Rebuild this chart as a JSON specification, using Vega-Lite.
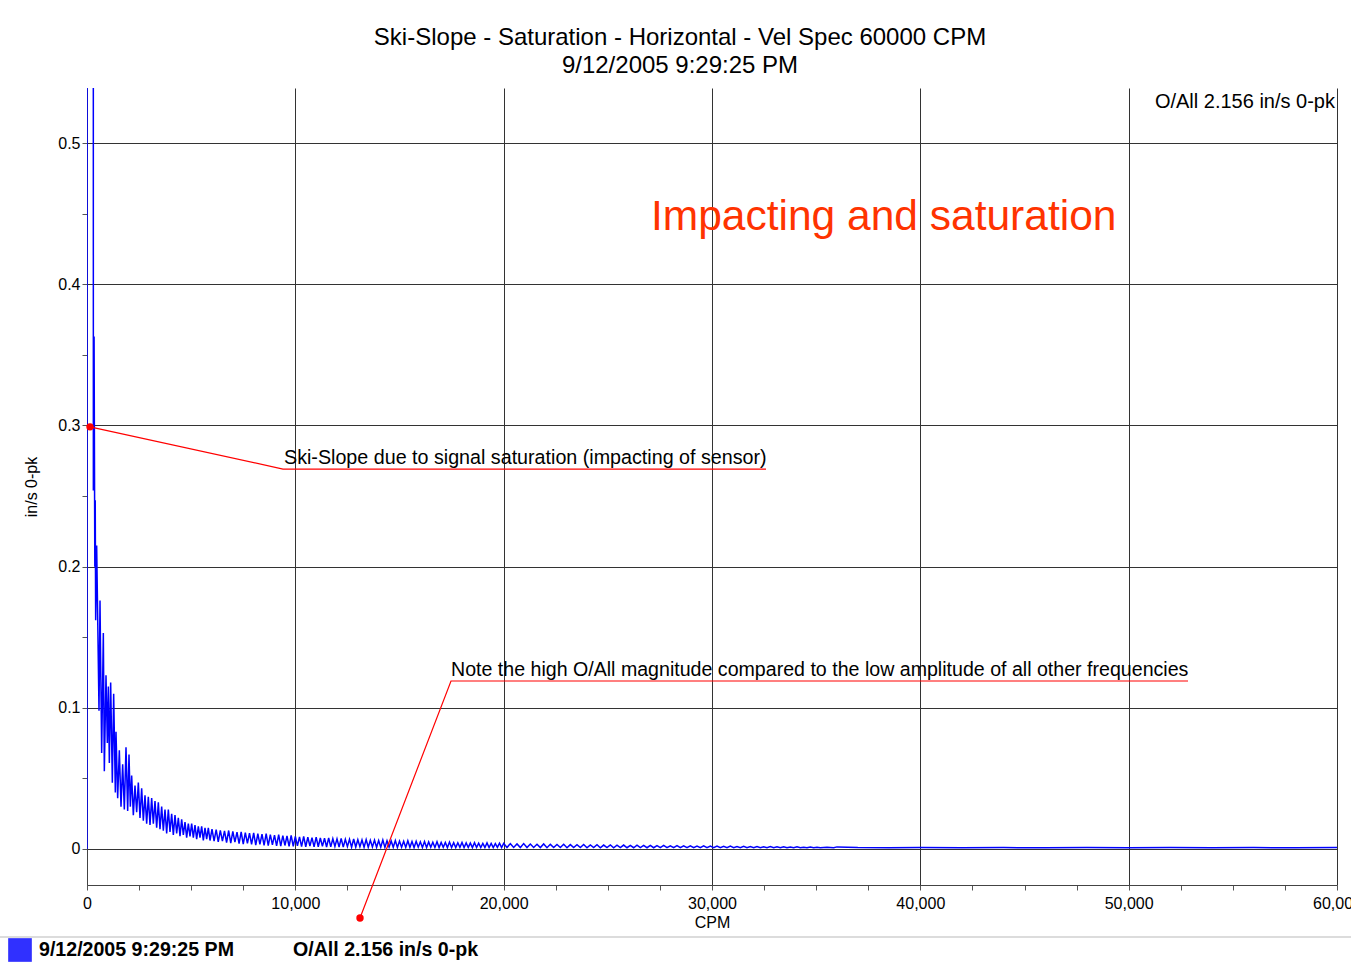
{
  "$schema": "https://vega.github.io/schema/vega-lite/v6.json",
  "width": 1250,
  "height": 797,
  "autosize": {"type": "none"},
  "padding": {"left": 87, "top": 88, "right": 14, "bottom": 77},
  "background": "white",
  "title": {
    "text": ["Ski-Slope - Saturation - Horizontal - Vel Spec 60000 CPM", "9/12/2005 9:29:25 PM"],
    "font": "Liberation Sans",
    "fontSize": 24,
    "fontWeight": "normal",
    "color": "black",
    "lineHeight": 28,
    "anchor": "middle",
    "dx": -32,
    "offset": 10
  },
  "config": {
    "view": {"stroke": null},
    "font": "Liberation Sans",
    "axis": {
      "labelFont": "Liberation Sans",
      "titleFont": "Liberation Sans",
      "labelColor": "black",
      "titleColor": "black",
      "labelFontSize": 16,
      "titleFontSize": 16,
      "titleFontWeight": "normal",
      "tickColor": "#555",
      "domainColor": "#444",
      "tickSize": 5,
      "grid": true,
      "gridColor": "#333",
      "labelOverlap": false,
      "labelFlush": false
    }
  },
  "datasets": {
    "spectrum": [
      {"cpm":0,"amp":0},{"cpm":15,"amp":3},{"cpm":290,"amp":3},{"cpm":305,"amp":0.254},{"cpm":340,"amp":0.363},{"cpm":375,"amp":0.2},{"cpm":395,"amp":0.247},{"cpm":416,"amp":0.162},{"cpm":464,"amp":0.215},
      {"cpm":576,"amp":0.098},{"cpm":624,"amp":0.176},{"cpm":704,"amp":0.068},{"cpm":784,"amp":0.153},{"cpm":832,"amp":0.055},{"cpm":912,"amp":0.123},{"cpm":976,"amp":0.075},{"cpm":1024,"amp":0.115},{"cpm":1072,"amp":0.061},{"cpm":1136,"amp":0.118},{"cpm":1216,"amp":0.047},{"cpm":1280,"amp":0.11},{"cpm":1360,"amp":0.04},{"cpm":1392,"amp":0.083},{"cpm":1472,"amp":0.036},{"cpm":1552,"amp":0.07},{"cpm":1632,"amp":0.03},{"cpm":1712,"amp":0.06},{"cpm":1792,"amp":0.028},{"cpm":1872,"amp":0.072},{"cpm":1952,"amp":0.027},{"cpm":2016,"amp":0.067},{"cpm":2080,"amp":0.03},{"cpm":2144,"amp":0.052},{"cpm":2224,"amp":0.024},{"cpm":2304,"amp":0.045},{"cpm":2384,"amp":0.026},{"cpm":2464,"amp":0.047},{"cpm":2544,"amp":0.022},{"cpm":2624,"amp":0.043},{"cpm":2704,"amp":0.02},{"cpm":2784,"amp":0.038},{"cpm":2864,"amp":0.018},{"cpm":2944,"amp":0.037},{"cpm":3024,"amp":0.017},{"cpm":3104,"amp":0.036},{"cpm":3184,"amp":0.018},{"cpm":3264,"amp":0.034},{"cpm":3344,"amp":0.015},{"cpm":3424,"amp":0.033},{"cpm":3504,"amp":0.014},{"cpm":3584,"amp":0.03},{"cpm":3664,"amp":0.013},{"cpm":3744,"amp":0.028},{"cpm":3824,"amp":0.011},{"cpm":3904,"amp":0.028},{"cpm":3984,"amp":0.012},{"cpm":4064,"amp":0.025},{"cpm":4144,"amp":0.01},{"cpm":4224,"amp":0.024},{"cpm":4304,"amp":0.011},{"cpm":4384,"amp":0.022},{"cpm":4464,"amp":0.009},{"cpm":4544,"amp":0.021},{"cpm":4624,"amp":0.01},{"cpm":4704,"amp":0.019},{"cpm":4784,"amp":0.008},{"cpm":4864,"amp":0.018},{"cpm":4944,"amp":0.009},{"cpm":5024,"amp":0.018},{"cpm":5104,"amp":0.008},{"cpm":5184,"amp":0.017},{"cpm":5264,"amp":0.007},{"cpm":5344,"amp":0.016},{"cpm":5424,"amp":0.008},{"cpm":5504,"amp":0.016},{"cpm":5584,"amp":0.006},{"cpm":5664,"amp":0.015},{"cpm":5744,"amp":0.007},{"cpm":5824,"amp":0.015},{"cpm":5904,"amp":0.006},
      {"cpm":6000,"amp":0.014},{"cpm":6100,"amp":0.0055},{"cpm":6200,"amp":0.0138},{"cpm":6300,"amp":0.005},{"cpm":6400,"amp":0.0132},{"cpm":6500,"amp":0.0056},{"cpm":6600,"amp":0.0128},{"cpm":6700,"amp":0.0046},{"cpm":6800,"amp":0.0131},{"cpm":6900,"amp":0.0042},{"cpm":7000,"amp":0.0124},{"cpm":7100,"amp":0.0048},{"cpm":7200,"amp":0.012},{"cpm":7300,"amp":0.0038},{"cpm":7400,"amp":0.0122},{"cpm":7500,"amp":0.0035},{"cpm":7600,"amp":0.0116},{"cpm":7700,"amp":0.004},{"cpm":7800,"amp":0.0112},{"cpm":7900,"amp":0.0032},{"cpm":8000,"amp":0.0114},{"cpm":8100,"amp":0.0028},{"cpm":8200,"amp":0.0108},{"cpm":8300,"amp":0.0033},{"cpm":8400,"amp":0.0105},{"cpm":8500,"amp":0.0026},{"cpm":8600,"amp":0.0109},{"cpm":8700,"amp":0.0024},{"cpm":8800,"amp":0.0102},{"cpm":8900,"amp":0.0029},{"cpm":9000,"amp":0.0098},{"cpm":9100,"amp":0.0022},{"cpm":9200,"amp":0.0101},{"cpm":9300,"amp":0.002},{"cpm":9400,"amp":0.0095},{"cpm":9500,"amp":0.0025},{"cpm":9600,"amp":0.0092},{"cpm":9700,"amp":0.0019},{"cpm":9800,"amp":0.0096},{"cpm":9900,"amp":0.0018},
      {"cpm":10000,"amp":0.0089},{"cpm":10100,"amp":0.0022},{"cpm":10200,"amp":0.0086},{"cpm":10300,"amp":0.0017},{"cpm":10400,"amp":0.009},{"cpm":10500,"amp":0.0016},{"cpm":10600,"amp":0.0083},{"cpm":10700,"amp":0.002},{"cpm":10800,"amp":0.0081},{"cpm":10900,"amp":0.0015},{"cpm":11000,"amp":0.0084},{"cpm":11100,"amp":0.0016},{"cpm":11200,"amp":0.0078},{"cpm":11300,"amp":0.0019},{"cpm":11400,"amp":0.0076},{"cpm":11500,"amp":0.0014},{"cpm":11600,"amp":0.0079},{"cpm":11700,"amp":0.0015},{"cpm":11800,"amp":0.0073},{"cpm":11900,"amp":0.0018},{"cpm":12000,"amp":0.0072},{"cpm":12100,"amp":0.0014},{"cpm":12200,"amp":0.0075},{"cpm":12300,"amp":0.0013},{"cpm":12400,"amp":0.0069},{"cpm":12500,"amp":0.0017},{"cpm":12600,"amp":0.0068},{"cpm":12700,"amp":0.0013},{"cpm":12800,"amp":0.0071},{"cpm":12900,"amp":0.0014},{"cpm":13000,"amp":0.0066},{"cpm":13100,"amp":0.0016},{"cpm":13200,"amp":0.0064},{"cpm":13300,"amp":0.0012},{"cpm":13400,"amp":0.0067},{"cpm":13500,"amp":0.0013},{"cpm":13600,"amp":0.0062},{"cpm":13700,"amp":0.0015},{"cpm":13800,"amp":0.0063},{"cpm":13900,"amp":0.0012},
      {"cpm":14000,"amp":0.006},{"cpm":14100,"amp":0.0013},{"cpm":14200,"amp":0.0064},{"cpm":14300,"amp":0.0011},{"cpm":14400,"amp":0.0059},{"cpm":14500,"amp":0.0014},{"cpm":14600,"amp":0.0057},{"cpm":14700,"amp":0.0012},{"cpm":14800,"amp":0.006},{"cpm":14900,"amp":0.0011},{"cpm":15000,"amp":0.0056},{"cpm":15100,"amp":0.0013},{"cpm":15200,"amp":0.0055},{"cpm":15300,"amp":0.0011},{"cpm":15400,"amp":0.0058},{"cpm":15500,"amp":0.0012},{"cpm":15600,"amp":0.0053},{"cpm":15700,"amp":0.001},{"cpm":15800,"amp":0.0054},{"cpm":15900,"amp":0.0013},{"cpm":16000,"amp":0.0051},{"cpm":16100,"amp":0.0011},{"cpm":16200,"amp":0.0053},{"cpm":16300,"amp":0.001},{"cpm":16400,"amp":0.005},{"cpm":16500,"amp":0.0012},{"cpm":16600,"amp":0.0048},{"cpm":16700,"amp":0.0011},{"cpm":16800,"amp":0.0051},{"cpm":16900,"amp":0.001},{"cpm":17000,"amp":0.0047},{"cpm":17100,"amp":0.0012},{"cpm":17200,"amp":0.0046},{"cpm":17300,"amp":0.001},{"cpm":17400,"amp":0.0049},{"cpm":17500,"amp":0.0011},{"cpm":17600,"amp":0.0045},{"cpm":17700,"amp":0.001},{"cpm":17800,"amp":0.0044},{"cpm":17900,"amp":0.0012},{"cpm":18000,"amp":0.0046},{"cpm":18100,"amp":0.001},{"cpm":18200,"amp":0.0043},{"cpm":18300,"amp":0.0011},{"cpm":18400,"amp":0.0042},{"cpm":18500,"amp":0.001},{"cpm":18600,"amp":0.0045},{"cpm":18700,"amp":0.0011},{"cpm":18800,"amp":0.0041},{"cpm":18900,"amp":0.001},{"cpm":19000,"amp":0.004},{"cpm":19100,"amp":0.0011},{"cpm":19200,"amp":0.0043},{"cpm":19300,"amp":0.001},{"cpm":19400,"amp":0.0039},{"cpm":19500,"amp":0.001},{"cpm":19600,"amp":0.0038},{"cpm":19700,"amp":0.0011},{"cpm":19800,"amp":0.0041},{"cpm":19900,"amp":0.001},
      {"cpm":20000,"amp":0.004},{"cpm":20160,"amp":0.001},{"cpm":20320,"amp":0.0038},{"cpm":20480,"amp":0.0011},{"cpm":20640,"amp":0.0036},{"cpm":20800,"amp":0.001},{"cpm":20960,"amp":0.0038},{"cpm":21120,"amp":0.001},{"cpm":21280,"amp":0.0035},{"cpm":21440,"amp":0.0011},{"cpm":21600,"amp":0.0034},{"cpm":21760,"amp":0.001},{"cpm":21920,"amp":0.0036},{"cpm":22080,"amp":0.0009},{"cpm":22240,"amp":0.0033},{"cpm":22400,"amp":0.001},{"cpm":22560,"amp":0.0032},{"cpm":22720,"amp":0.0011},{"cpm":22880,"amp":0.0034},{"cpm":23040,"amp":0.0009},{"cpm":23200,"amp":0.0031},{"cpm":23360,"amp":0.001},{"cpm":23520,"amp":0.003},{"cpm":23680,"amp":0.001},{"cpm":23840,"amp":0.0032},{"cpm":24000,"amp":0.0009},{"cpm":24160,"amp":0.0029},{"cpm":24320,"amp":0.001},{"cpm":24480,"amp":0.003},{"cpm":24640,"amp":0.0009},{"cpm":24800,"amp":0.0028},{"cpm":24960,"amp":0.001},{"cpm":25120,"amp":0.0029},{"cpm":25280,"amp":0.0009},{"cpm":25440,"amp":0.0027},{"cpm":25600,"amp":0.001},{"cpm":25760,"amp":0.0028},{"cpm":25920,"amp":0.0009},{"cpm":26080,"amp":0.0026},{"cpm":26240,"amp":0.0009},{"cpm":26400,"amp":0.0027},{"cpm":26560,"amp":0.001},{"cpm":26720,"amp":0.0025},{"cpm":26880,"amp":0.0009},{"cpm":27040,"amp":0.0026},{"cpm":27200,"amp":0.0009},{"cpm":27360,"amp":0.0024},{"cpm":27520,"amp":0.001},{"cpm":27680,"amp":0.0025},{"cpm":27840,"amp":0.0009},
      {"cpm":28000,"amp":0.0023},{"cpm":28160,"amp":0.0009},{"cpm":28320,"amp":0.0024},{"cpm":28480,"amp":0.0009},{"cpm":28640,"amp":0.0022},{"cpm":28800,"amp":0.001},{"cpm":28960,"amp":0.0023},{"cpm":29120,"amp":0.0009},{"cpm":29280,"amp":0.0021},{"cpm":29440,"amp":0.0009},{"cpm":29600,"amp":0.0022},{"cpm":29760,"amp":0.0009},{"cpm":29920,"amp":0.002},{"cpm":30080,"amp":0.001},{"cpm":30240,"amp":0.0021},{"cpm":30400,"amp":0.0009},{"cpm":30560,"amp":0.0019},{"cpm":30720,"amp":0.0009},{"cpm":30880,"amp":0.002},{"cpm":31040,"amp":0.0009},{"cpm":31200,"amp":0.0018},{"cpm":31360,"amp":0.0009},{"cpm":31520,"amp":0.0019},{"cpm":31680,"amp":0.0009},{"cpm":31840,"amp":0.0017},{"cpm":32000,"amp":0.0009},{"cpm":32160,"amp":0.0018},{"cpm":32320,"amp":0.0009},{"cpm":32480,"amp":0.0016},{"cpm":32640,"amp":0.0009},{"cpm":32800,"amp":0.0017},{"cpm":32960,"amp":0.0009},{"cpm":33120,"amp":0.0015},{"cpm":33280,"amp":0.0009},{"cpm":33440,"amp":0.0016},{"cpm":33600,"amp":0.0009},{"cpm":33760,"amp":0.0014},{"cpm":33920,"amp":0.0009},{"cpm":34080,"amp":0.0015},{"cpm":34240,"amp":0.0009},{"cpm":34400,"amp":0.0013},{"cpm":34560,"amp":0.0009},{"cpm":34720,"amp":0.0014},{"cpm":34880,"amp":0.0009},{"cpm":35040,"amp":0.0013},{"cpm":35200,"amp":0.0009},{"cpm":35520,"amp":0.0012},{"cpm":35840,"amp":0.0009},{"cpm":36000,"amp":0.0015},
      {"cpm":37000,"amp":0.001},{"cpm":38500,"amp":0.0009},{"cpm":40000,"amp":0.001},{"cpm":42000,"amp":0.0009},{"cpm":44000,"amp":0.001},{"cpm":46000,"amp":0.0009},{"cpm":48000,"amp":0.001},{"cpm":50000,"amp":0.0009},{"cpm":52000,"amp":0.001},{"cpm":54000,"amp":0.0009},{"cpm":56000,"amp":0.001},{"cpm":58000,"amp":0.0009},{"cpm":60000,"amp":0.001}
    ],
    "leaders": [
      {"note":"a","step":1,"cpm":144,"amp":0.299},
      {"note":"a","step":2,"cpm":9408,"amp":0.2691},
      {"note":"a","step":3,"cpm":32592,"amp":0.2691},
      {"note":"b","step":1,"cpm":13104,"amp":-0.0489},
      {"note":"b","step":2,"cpm":17472,"amp":0.119},
      {"note":"b","step":3,"cpm":52848,"amp":0.119}
    ]
  },
  "layer": [
    {
      "data": {"name": "spectrum"},
      "mark": {"type": "line", "strokeWidth": 1.5, "clip": true, "interpolate": "linear"},
      "encoding": {
        "x": {
          "field": "cpm", "type": "quantitative",
          "scale": {"domain": [0, 60000], "nice": false, "zero": false},
          "axis": {
            "title": "CPM",
            "values": [0,2500,5000,7500,10000,12500,15000,17500,20000,22500,25000,27500,30000,32500,35000,37500,40000,42500,45000,47500,50000,52500,55000,57500,60000],
            "labelExpr": "datum.value % 10000 === 0 ? format(datum.value, ',') : ''",
            "gridOpacity": {"condition": {"test": "datum.value % 10000 === 0", "value": 1}, "value": 0},
            "labelPadding": 5,
            "titlePadding": 3
          }
        },
        "y": {
          "field": "amp", "type": "quantitative",
          "scale": {"domain": [-0.0255, 0.539], "nice": false, "zero": false},
          "axis": {
            "title": "in/s 0-pk",
            "values": [0,0.025,0.05,0.075,0.1,0.125,0.15,0.175,0.2,0.225,0.25,0.275,0.3,0.325,0.35,0.375,0.4,0.425,0.45,0.475,0.5],
            "labelExpr": "abs(datum.value*10 - round(datum.value*10)) < 0.000001 ? format(datum.value, '.1~f') : ''",
            "gridOpacity": {"condition": {"test": "abs(datum.value*10 - round(datum.value*10)) < 0.000001", "value": 1}, "value": 0},
            "labelPadding": 2,
            "titlePadding": 18
          }
        },
        "color": {
          "datum": "9/12/2005 9:29:25 PM",
          "type": "nominal",
          "scale": {"range": ["#0000ff"]},
          "legend": {
            "orient": "none",
            "legendX": -79,
            "legendY": 850,
            "padding": 0,
            "title": "O/All 2.156 in/s 0-pk",
            "titleOrient": "right",
            "titlePadding": 59,
            "titleFont": "Liberation Sans",
            "titleFontSize": 19.6,
            "titleFontWeight": "bold",
            "titleColor": "black",
            "titleLimit": 400,
            "labelFont": "Liberation Sans",
            "labelFontSize": 19.6,
            "labelFontWeight": "bold",
            "labelColor": "black",
            "labelLimit": 400,
            "labelOffset": 7,
            "symbolType": "square",
            "symbolSize": 560,
            "symbolFillColor": "#3030ff",
            "symbolStrokeColor": "#3030ff",
            "symbolStrokeWidth": 0
          }
        }
      }
    },
    {
      "data": {"name": "leaders"},
      "mark": {"type": "line", "color": "#ff0000", "strokeWidth": 1.2, "clip": false},
      "encoding": {
        "x": {"field": "cpm", "type": "quantitative"},
        "y": {"field": "amp", "type": "quantitative"},
        "detail": {"field": "note"},
        "order": {"field": "step"}
      }
    },
    {
      "data": {"name": "leaders"},
      "transform": [{"filter": "datum.step === 1"}],
      "mark": {"type": "circle", "color": "#ff0000", "opacity": 1, "size": 55, "clip": false},
      "encoding": {
        "x": {"field": "cpm", "type": "quantitative"},
        "y": {"field": "amp", "type": "quantitative"}
      }
    },
    {
      "data": {"values": [{}]},
      "mark": {"type": "rule", "color": "#dcdcdc", "strokeWidth": 2, "clip": false},
      "encoding": {
        "x": {"datum": -4176, "type": "quantitative"},
        "x2": {"datum": 60672},
        "y": {"datum": -0.0623, "type": "quantitative"}
      }
    },
    {
      "data": {"values": [{}]},
      "mark": {"type": "text", "text": "Ski-Slope due to signal saturation (impacting of sensor)", "align": "left", "baseline": "alphabetic", "font": "Liberation Sans", "fontSize": 19.7, "color": "black"},
      "encoding": {
        "x": {"datum": 9456, "type": "quantitative"},
        "y": {"datum": 0.2727, "type": "quantitative"}
      }
    },
    {
      "data": {"values": [{}]},
      "mark": {"type": "text", "text": "Note the high O/All magnitude compared to the low amplitude of all other frequencies", "align": "left", "baseline": "alphabetic", "font": "Liberation Sans", "fontSize": 19.6, "color": "black"},
      "encoding": {
        "x": {"datum": 17472, "type": "quantitative"},
        "y": {"datum": 0.1225, "type": "quantitative"}
      }
    },
    {
      "data": {"values": [{}]},
      "mark": {"type": "text", "text": "Impacting and saturation", "align": "left", "baseline": "alphabetic", "font": "Liberation Sans", "fontSize": 42.5, "color": "#ff3300"},
      "encoding": {
        "x": {"datum": 27072, "type": "quantitative"},
        "y": {"datum": 0.4384, "type": "quantitative"}
      }
    },
    {
      "data": {"values": [{}]},
      "mark": {"type": "text", "text": "O/All 2.156 in/s 0-pk", "align": "right", "baseline": "alphabetic", "font": "Liberation Sans", "fontSize": 20, "color": "black"},
      "encoding": {
        "x": {"datum": 59904, "type": "quantitative"},
        "y": {"datum": 0.5248, "type": "quantitative"}
      }
    }
  ]
}
